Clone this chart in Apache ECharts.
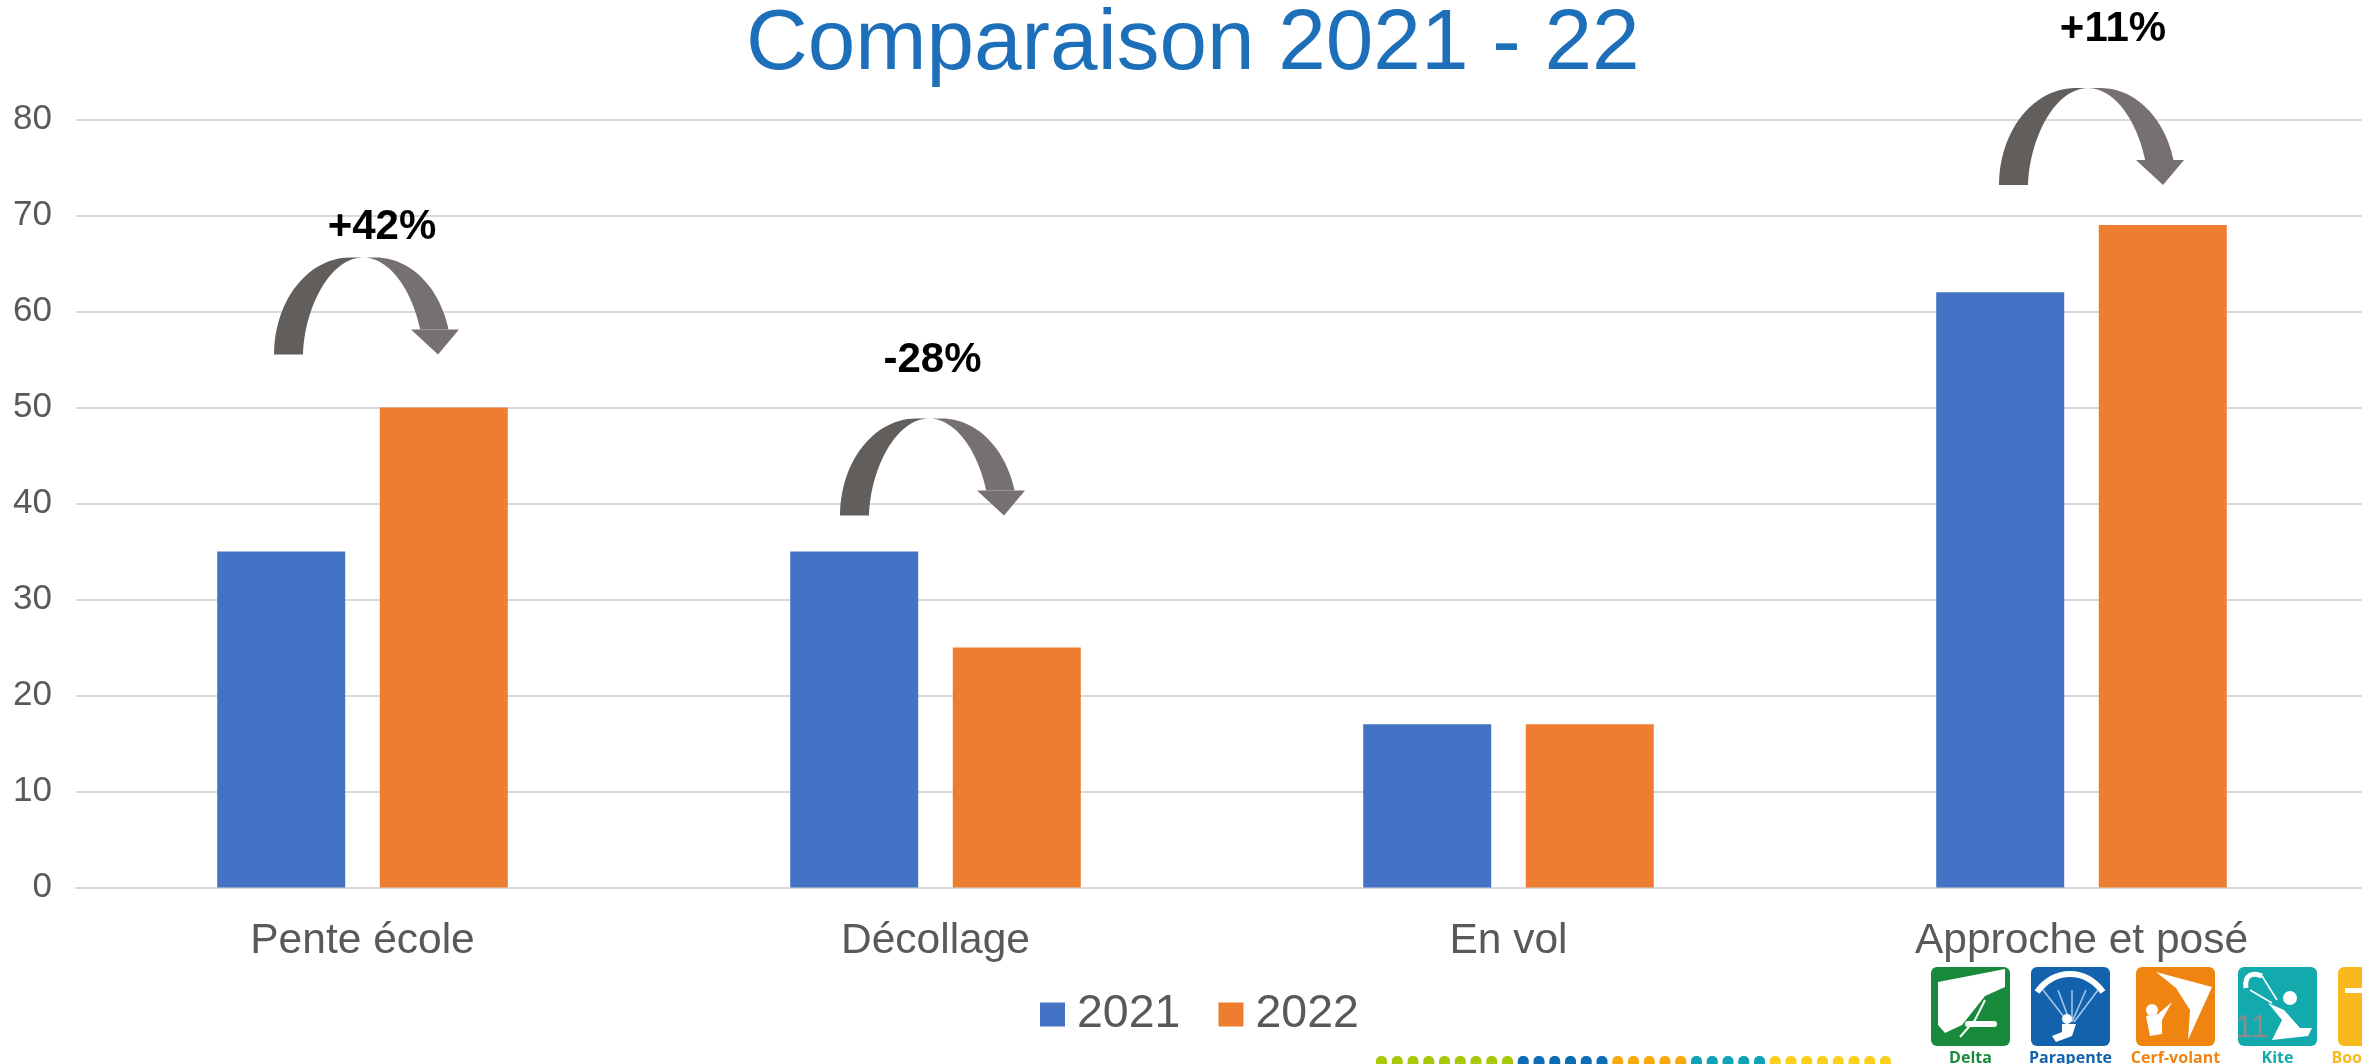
<!DOCTYPE html>
<html><head><meta charset="utf-8">
<style>html,body{margin:0;padding:0;background:#fff;overflow:hidden}#c{width:2362px;height:1064px}</style>
<script src="https://cdn.jsdelivr.net/npm/echarts@6/dist/echarts.min.js"></script>
</head><body><div id="c"></div>
<script>
const categories = ['Pente école', 'Décollage', 'En vol', 'Approche et posé'];
const values2021 = [35, 35, 17, 62];
const values2022 = [50, 25, 17, 69];
const yearNames = ['2021', '2022'];
const yTickMax = 80;
const changeLabels = ['+42%', '-28%', null, '+11%'];
const logoNames = ['Delta', 'Parapente', 'Cerf-volant', 'Kite', 'Boomerang'];
const logoColors = ['#178a3c', '#1262ae', '#ef8510', '#12aaad', '#f9b91e'];
const dotColors = [['#a8c90a', 9], ['#0c6db5', 6], ['#f7a90f', 5], ['#0fa3b5', 5], ['#f9d11c', 8]];

const FONT = '"Liberation Sans", Arial, sans-serif';
const BLUE = '#4472c4', ORANGE = '#ed7d31', TXT = '#595959';
// pixel offsets of each annotation from its category's top bar
const arrowOffsets = [{dx:0.5,dy:-53,lx:19.5,ly:-180},{dx:-6.5,dy:-36,lx:-3,ly:-191},null,{dx:6.5,dy:-40,lx:31.5,ly:-196}];

function ell(cx,cy,rx,ry,a0,a1,n,f){const p=[];for(let i=0;i<=n;i++){const a=(a0+(a1-a0)*i/n)*Math.PI/180;p.push([cx+rx*Math.cos(a),cy-ry*Math.pow(Math.sin(a),f||1)]);}return p;}
function renderArrow(params, api){
  const i = api.value(0); const o = arrowOffsets[i];
  if(!o) return {type:'group',children:[]};
  const base = api.coord([i, api.value(1)]);
  const x = base[0]+o.dx, y = base[1]+o.dy;
  const endA = 15;
  const left = ell(x-13,y,76,97,180,90,28).concat([[x,y-97]]).concat(ell(x,y,60,97,90,180,28,1.15));
  const right = [[x,y-97]].concat(ell(x+13,y,75,97,90,endA,28)).concat([[x+58,y-25]]).concat(ell(x,y,60,97,endA,90,28,1.15).slice(1));
  const ey = y-25;
  return {type:'group',children:[
    {type:'polygon',shape:{points:left},style:{fill:'#625e5c'}},
    {type:'polygon',shape:{points:right},style:{fill:'#767170'}},
    {type:'polygon',shape:{points:[[x+48,ey],[x+75,y],[x+96,ey]]},style:{fill:'#767170'}},
    {type:'text',x:base[0]+o.lx,y:base[1]+o.ly,style:{text:changeLabels[i],font:'bold 42px '+FONT,fill:'#000',align:'center',verticalAlign:'middle'}}
  ]};
}

const g = [];
g.push({type:'rect',shape:{x:1376,y:966,width:986,height:98},style:{fill:'#fff'},z:5});
const lx=[1931,2031,2136,2238,2338];
logoNames.forEach((n,i)=>{
  g.push({type:'rect',shape:{x:lx[i],y:967,width:79,height:79,r:6},style:{fill:logoColors[i]},z:6});
  g.push({type:'text',x:lx[i]+39.5,y:1058,style:{text:n,font:'bold 16px "Open Sans",'+FONT,fill:logoColors[i],align:'center',verticalAlign:'middle'},z:6});
});
const W='#fff', ic=(o)=>{o.z=7;g.push(o)};
// delta
ic({type:'polygon',shape:{points:[[1938,982],[2005,969],[2005,987],[1985,996],[1962,1025],[1945,1033],[1938,1025]]},style:{fill:W}});
ic({type:'rect',shape:{x:1965,y:1021,width:32,height:6,r:3},style:{fill:W}});
ic({type:'polyline',shape:{points:[[1960,1037],[1975,1020],[1985,1000]]},style:{stroke:W,lineWidth:2,fill:null}});
// parapente
ic({type:'bezierCurve',shape:{x1:2037,y1:992,cpx1:2055,cpy1:968,cpx2:2085,cpy2:968,x2:2103,y2:992},style:{stroke:W,lineWidth:6,fill:null}});
[[2043,2068],[2058,2070],[2072,2072],[2086,2072],[2098,2074]].forEach(p=>ic({type:'line',shape:{x1:p[0],y1:990,x2:p[1],y2:1022},style:{stroke:'#a9c8ea',lineWidth:1.5}}));
ic({type:'circle',shape:{cx:2067,cy:1019,r:5},style:{fill:W}});
ic({type:'polygon',shape:{points:[[2062,1024],[2076,1024],[2072,1036],[2056,1042],[2052,1036],[2062,1032]]},style:{fill:W}});
// cerf-volant
ic({type:'polygon',shape:{points:[[2156,972],[2212,987],[2188,1040],[2190,1010],[2176,988]]},style:{fill:W}});
ic({type:'circle',shape:{cx:2152,cy:1010,r:6},style:{fill:W}});
ic({type:'polygon',shape:{points:[[2146,1016],[2158,1014],[2172,1002],[2162,1020],[2162,1034],[2150,1036]]},style:{fill:W}});
// kite
ic({type:'bezierCurve',shape:{x1:2246,y1:988,cpx1:2244,cpy1:975,cpx2:2252,cpy2:972,x2:2262,y2:976},style:{stroke:W,lineWidth:5,fill:null}});
ic({type:'line',shape:{x1:2250,y1:990,x2:2272,y2:1003},style:{stroke:W,lineWidth:1.5}});
ic({type:'line',shape:{x1:2262,y1:976,x2:2277,y2:1000},style:{stroke:W,lineWidth:1.5}});
ic({type:'circle',shape:{cx:2290,cy:998,r:7},style:{fill:W}});
ic({type:'polygon',shape:{points:[[2268,1003],[2284,1010],[2300,1028],[2312,1028],[2308,1036],[2272,1040],[2282,1020]]},style:{fill:W}});
// boomerang
ic({type:'rect',shape:{x:2345,y:988,width:17,height:5},style:{fill:W}});
// strip of dots
let dx=1376;
dotColors.forEach(([c,n])=>{for(let k=0;k<n;k++){g.push({type:'rect',shape:{x:dx,y:1056,width:11,height:10,r:[5,5,0,0]},style:{fill:c},z:6});dx+=15.75;}});
g.push({type:'text',x:2252,y:1028,style:{text:'11',font:'32px '+FONT,fill:'#8c8c8c',align:'center',verticalAlign:'middle'},z:8});

const chart = echarts.init(document.getElementById('c'),null,{renderer:'canvas'});
chart.setOption({
  animation:false,
  backgroundColor:'#fff',
  title:{text:'Comparaison 2021 - 22',top:-3,left:741,
    textStyle:{fontFamily:FONT,fontSize:85.5,fontWeight:'normal',color:'#1c6fb8'}},
  legend:{data:yearNames,left:1035,top:986,itemWidth:25,itemHeight:24,itemGap:38,icon:'rect',
    textStyle:{fontFamily:FONT,fontSize:46.5,color:TXT,padding:[0,0,0,7]}},
  grid:{left:76,width:2292,top:119.5,height:768,containLabel:false,outerBoundsMode:'none'},
  xAxis:{type:'category',data:categories,axisTick:{show:false},
    axisLine:{lineStyle:{color:'#d9d9d9',width:2}},
    axisLabel:{fontFamily:FONT,fontSize:42.5,color:TXT,margin:32}},
  yAxis:{type:'value',min:0,max:yTickMax,interval:10,axisLine:{show:false},axisTick:{show:false},
    splitLine:{lineStyle:{color:'#d9d9d9',width:2}},
    axisLabel:{fontFamily:FONT,fontSize:35,color:TXT,margin:24,padding:[7,0,0,0]}},
  series:[
    {name:yearNames[0],type:'bar',data:values2021,barWidth:128,barGap:'27%',itemStyle:{color:BLUE}},
    {name:yearNames[1],type:'bar',data:values2022,barWidth:128,itemStyle:{color:ORANGE}},
    {type:'custom',renderItem:renderArrow,silent:true,z:4,clip:false,legendHoverLink:false,tooltip:{show:false},
     data:categories.map((c,i)=>[i,Math.max(values2021[i],values2022[i])]),encode:{x:0,y:1}}
  ],
  graphic:{elements:g}
});
</script></body></html>
